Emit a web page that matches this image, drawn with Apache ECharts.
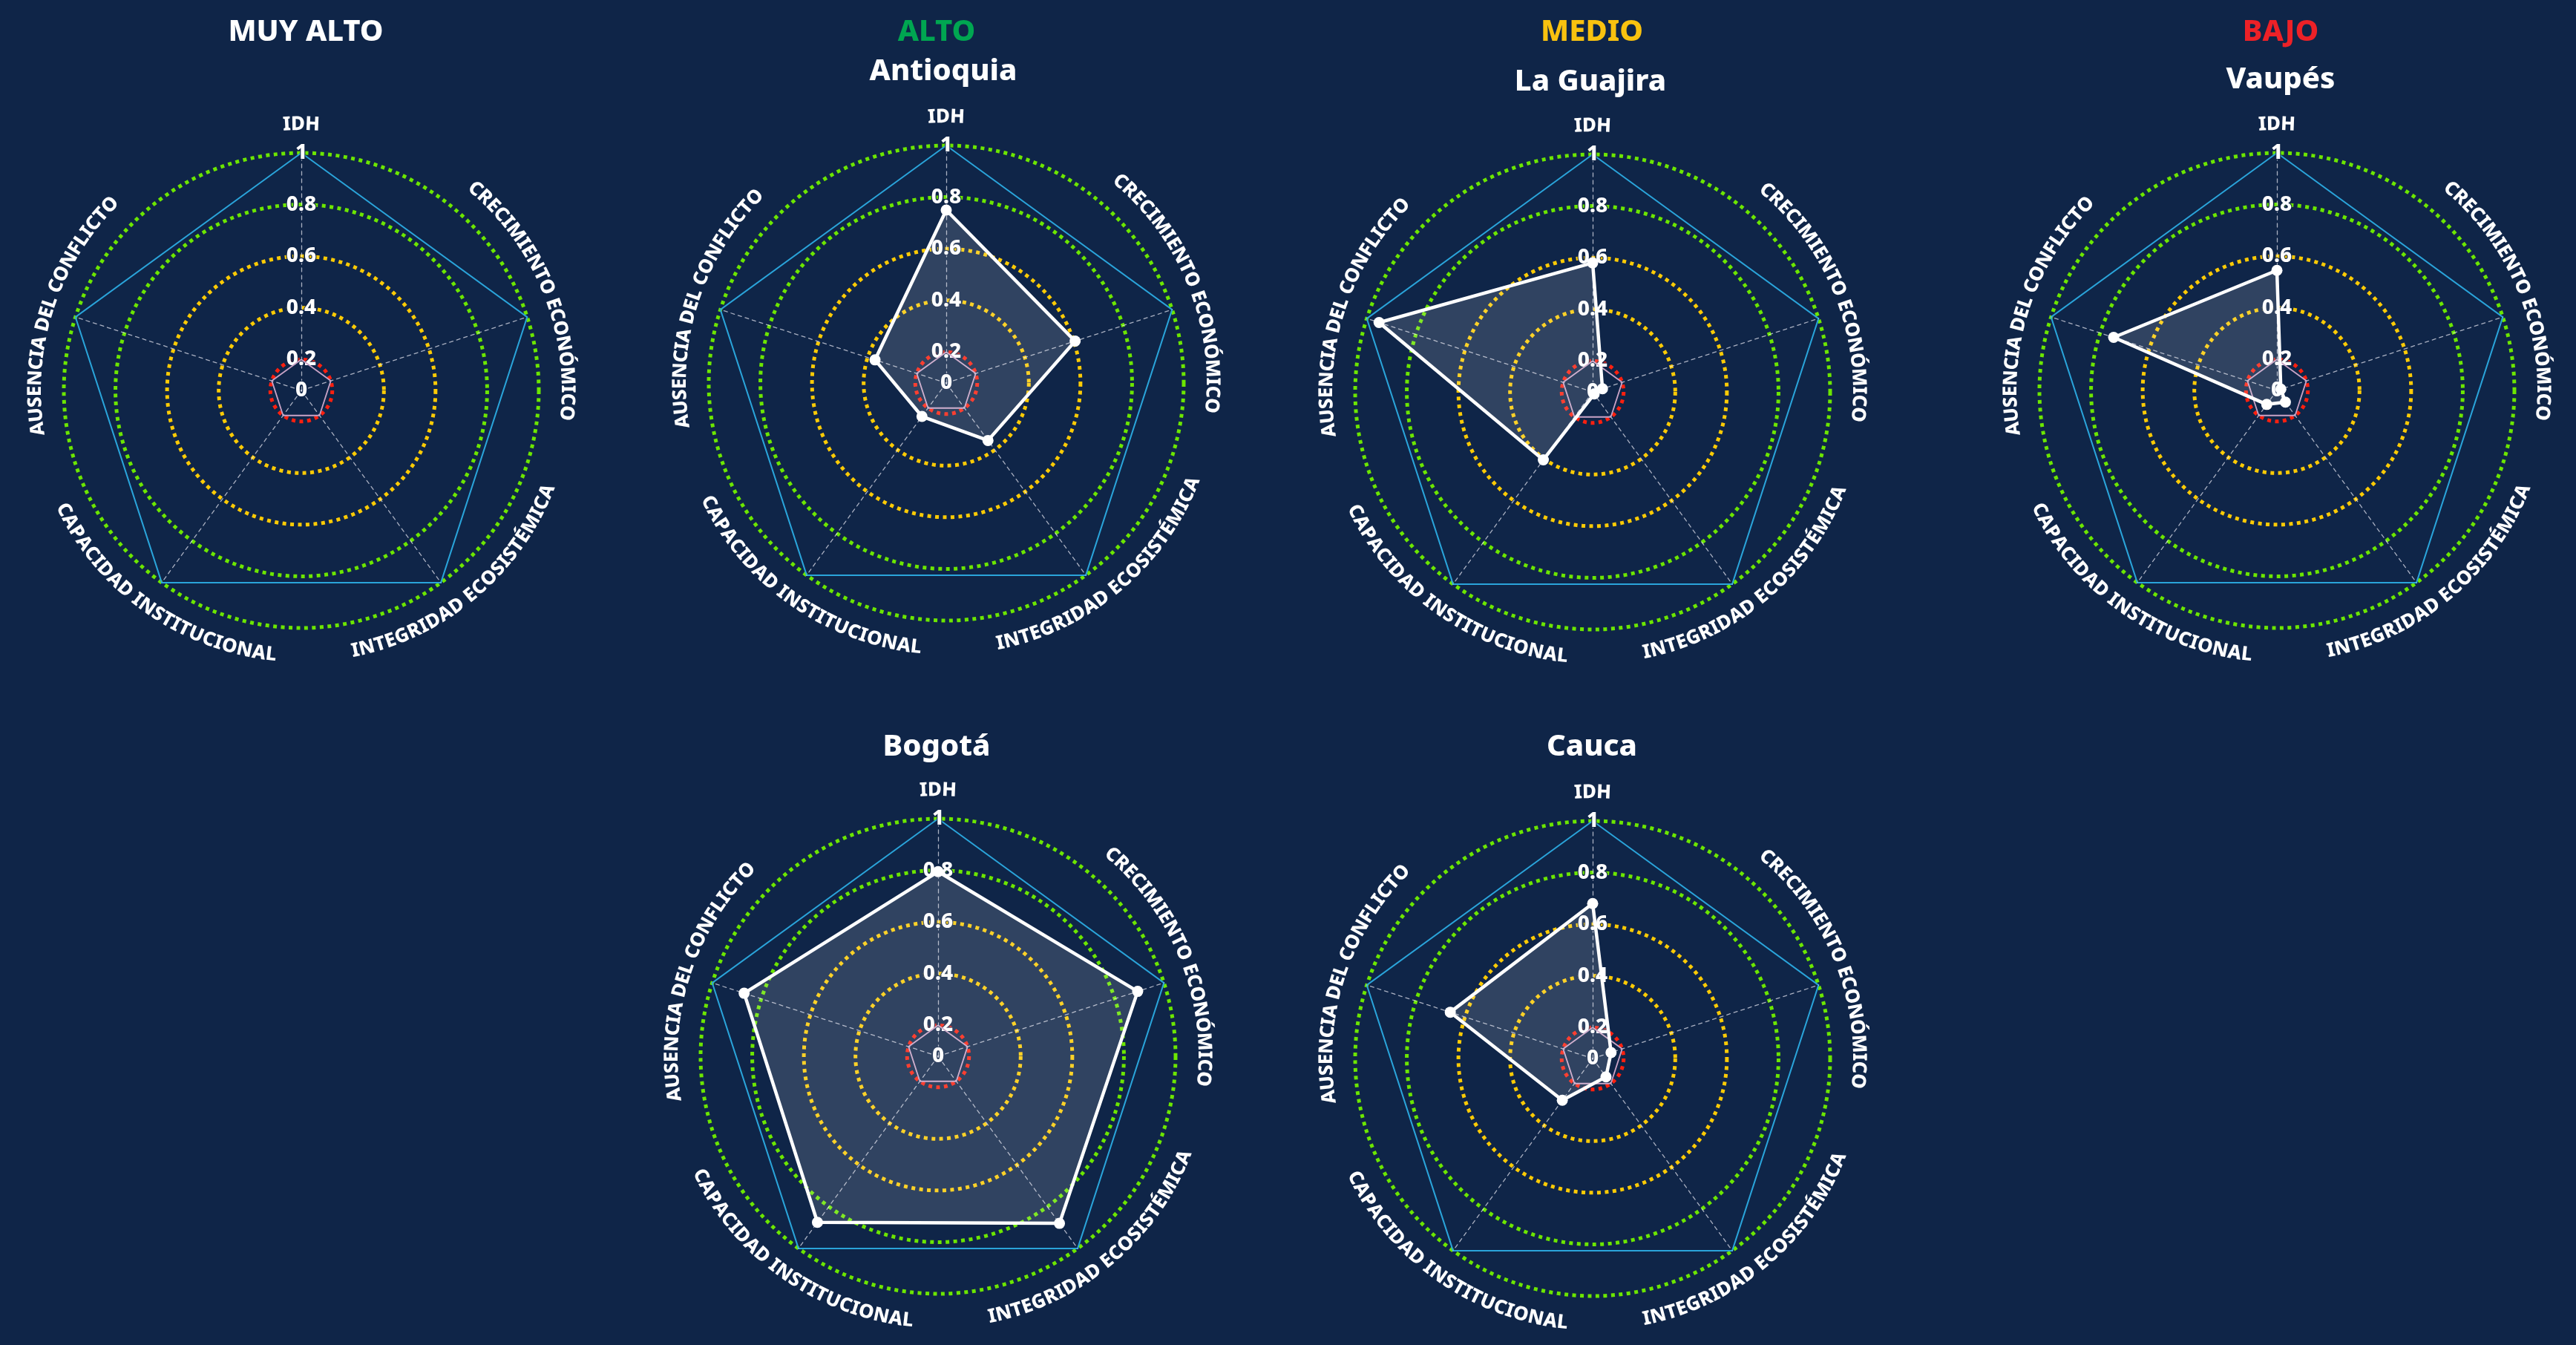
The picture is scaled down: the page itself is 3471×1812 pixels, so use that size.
<!DOCTYPE html>
<html>
<head>
<meta charset="utf-8">
<title>Radar por departamento</title>
<script src="https://cdn.jsdelivr.net/npm/echarts@6/dist/echarts.min.js"></script>
<style>
    html, body { margin: 0; padding: 0; background: #0f2548; }
    #main { width: 3471px; height: 1812px; }
</style>
</head>
<body>
<div id="main"></div>
<script>
// ejes del radar, en el orden en que echarts los reparte (antihorario desde arriba)
var ejes = ['IDH', 'AUSENCIA DEL CONFLICTO', 'CAPACIDAD INSTITUCIONAL', 'INTEGRIDAD ECOSISTÉMICA', 'CRECIMIENTO ECONÓMICO'];
var etiquetaCentro = '0';
var niveles = ['MUY ALTO', 'ALTO', 'MEDIO', 'BAJO'];
var departamentos = ['Antioquia', 'La Guajira', 'Vaupés', 'Bogotá', 'Cauca'];

// valores
var antioquia = [0.75, 0.37, 0.24, 0.355, 0.605];
var laGuajira = [0.58, 0.95, 0.405, 0.09, 0.12];
var vaupes = [0.545, 0.745, 0.147, 0.136, 0.096];
var bogota = [0.795, 0.87, 0.875, 0.88, 0.893];
var cauca = [0.68, 0.66, 0.28, 0.168, 0.155];
// pentagono de referencia interior
var refBajo = [0.2, 0.2, 0.2, 0.2, 0.2];

// el original no arranca la escala en 0 en el centro
var ejeMin = 0.08;
var R = 320;

// paneles: posicion del radar y de los titulos
var paneles = [
    { nivel: 0, colorNivel: '#ffffff', nivelX: 412, depto: -1, datos: null, cx: 406, cy: 526 },
    { nivel: 1, colorNivel: '#00a651', nivelX: 1262, depto: 0, datos: antioquia, cx: 1275, cy: 516, dx: 1271, dy: 97 },
    { nivel: 2, colorNivel: '#f9c20f', nivelX: 2145, depto: 1, datos: laGuajira, cx: 2146, cy: 528, dx: 2143, dy: 111 },
    { nivel: 3, colorNivel: '#ed2127', nivelX: 3073, depto: 2, datos: vaupes, cx: 3068, cy: 526, dx: 3073, dy: 108 },
    { nivel: -1, depto: 3, datos: bogota, cx: 1264, cy: 1423, dx: 1262, dy: 1007 },
    { nivel: -1, depto: 4, datos: cauca, cx: 2146, cy: 1426, dx: 2145, dy: 1007 }
];

// angulo (grados) donde se centra cada nombre de eje, y si mira hacia afuera
var angNombres = [90, 162, 235, -50, 22];
var haciaAfuera = [true, true, false, false, true];

var familia = '"Noto Sans", "Open Sans", sans-serif';
var fuenteEje = '800 26px ' + familia;
var fuenteTitulo = '800 40px ' + familia;
var colorAnillos = ['rgba(0,0,0,0)', '#ff200f', '#ffcb05', '#ffcb05', '#6ce600', '#6ce600'];

var ctx = document.createElement('canvas').getContext('2d');

// texto curvo: una letra por elemento, girada segun la tangente
function textoCurvo(texto, cx, cy, r, angDeg, afuera) {
    ctx.font = fuenteEje;
    var letras = texto.split('');
    var anchos = letras.map(function (c) { return ctx.measureText(c).width; });
    var total = anchos.reduce(function (a, b) { return a + b; }, 0);
    var span = total / r;
    var centro = angDeg * Math.PI / 180;
    var acc = 0;
    var els = [];
    letras.forEach(function (c, i) {
        var off = (acc + anchos[i] / 2) / r;
        acc += anchos[i];
        if (c === ' ') return;
        var ang = afuera ? centro + span / 2 - off : centro - span / 2 + off;
        els.push({
            type: 'text',
            x: cx + r * Math.cos(ang),
            y: cy - r * Math.sin(ang),
            rotation: afuera ? ang - Math.PI / 2 : ang + Math.PI / 2,
            z: 100,
            silent: true,
            style: { text: c, font: fuenteEje, fill: '#ffffff', align: 'center', verticalAlign: 'middle' }
        });
    });
    return els;
}

var myChart = echarts.init(document.getElementById('main'));

var radar = [], polar = [], angleAxis = [], radiusAxis = [], series = [], graficos = [];

paneles.forEach(function (p, i) {
    radar.push({
        center: [p.cx, p.cy],
        radius: R,
        startAngle: 90,
        shape: 'polygon',
        splitNumber: 1,
        indicator: ejes.map(function (n) { return { name: n, min: ejeMin, max: 1 }; }),
        axisName: { show: false },
        splitLine: { lineStyle: { color: '#2aa4da', width: 2 } },
        splitArea: { show: false },
        axisLine: { lineStyle: { color: 'rgba(235,235,245,0.7)', width: 1.3, type: [5, 5] } },
        axisTick: { show: false },
        axisLabel: { show: false }
    });
    polar.push({ center: [p.cx, p.cy], radius: R });
    angleAxis.push({ polarIndex: i, type: 'value', startAngle: 90, min: 0, max: 360, show: false });
    radiusAxis.push({
        polarIndex: i,
        type: 'value',
        min: ejeMin,
        max: 1,
        axisLine: { show: false },
        axisTick: { show: false },
        splitLine: { show: true, lineStyle: { color: colorAnillos, width: 5, type: [5, 5.5] } },
        axisLabel: {
            margin: 0,
            align: 'center',
            verticalAlign: 'middle',
            color: '#ffffff',
            fontFamily: familia,
            fontWeight: 800,
            fontSize: 28,
            textBorderColor: 'rgba(15,37,72,0.85)',
            textBorderWidth: 2.5,
            formatter: function (v) {
                if (v < 0.1) return etiquetaCentro;
                return String(Math.round(v * 10) / 10);
            }
        }
    });

    series.push({
        type: 'radar',
        radarIndex: i,
        silent: true,
        symbol: 'none',
        z: 3,
        lineStyle: { color: '#c9a3c6', width: 1.8 },
        data: [{ value: refBajo }]
    });
    if (p.datos) {
        series.push({
            type: 'radar',
            radarIndex: i,
            symbol: 'circle',
            symbolSize: 15,
            z: 4,
            itemStyle: { color: '#ffffff' },
            lineStyle: { color: '#ffffff', width: 4.5 },
            areaStyle: { color: 'rgba(255,255,255,0.2)' },
            data: [{ value: p.datos, name: departamentos[p.depto] }]
        });
    }

    // titulos
    if (p.nivel >= 0) {
        graficos.push({
            type: 'text', x: p.nivelX, y: 44, z: 100,
            style: { text: niveles[p.nivel], font: fuenteTitulo, fill: p.colorNivel, align: 'center', verticalAlign: 'middle' }
        });
    }
    if (p.depto >= 0) {
        graficos.push({
            type: 'text', x: p.dx, y: p.dy, z: 100,
            style: { text: departamentos[p.depto], font: fuenteTitulo, fill: '#ffffff', align: 'center', verticalAlign: 'middle' }
        });
    }
    // nombres de los ejes
    ejes.forEach(function (n, k) {
        graficos = graficos.concat(textoCurvo(n, p.cx, p.cy, R * 1.12, angNombres[k], haciaAfuera[k]));
    });
});

var option = {
    backgroundColor: '#0f2548',
    animation: false,
    radar: radar,
    polar: polar,
    angleAxis: angleAxis,
    radiusAxis: radiusAxis,
    series: series,
    graphic: { elements: graficos }
};
myChart.setOption(option);
</script>
</body>
</html>
